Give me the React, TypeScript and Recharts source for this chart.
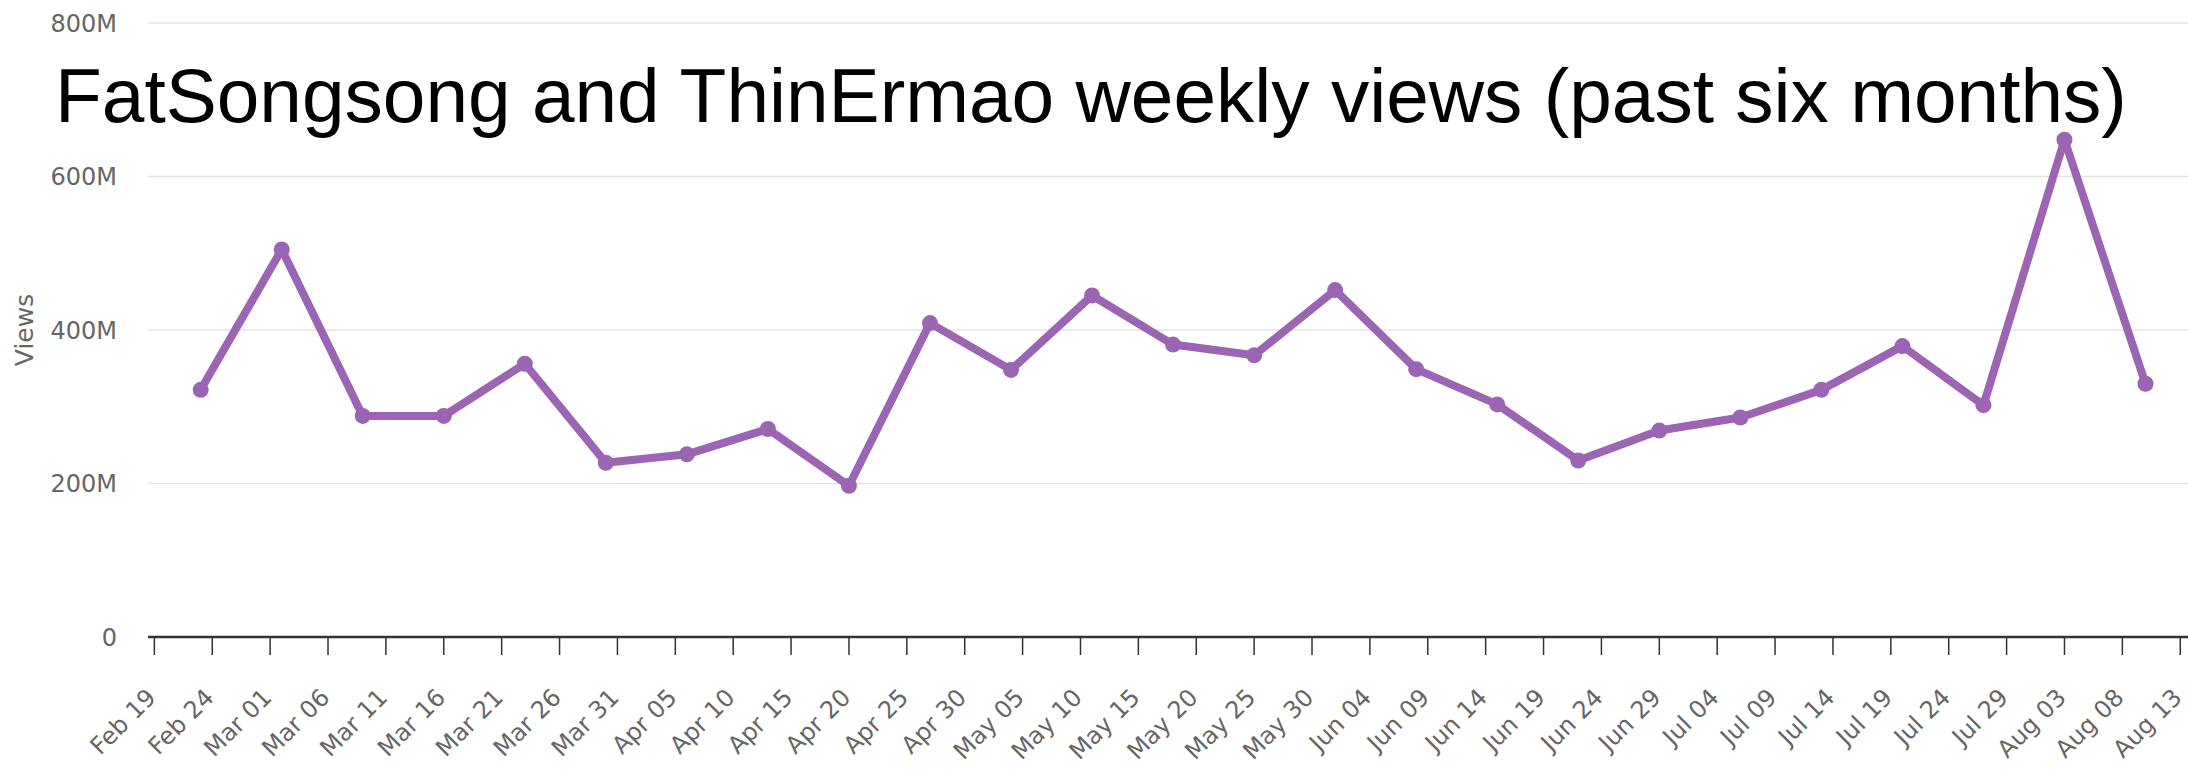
import React from 'react';
import { LineChart, Line, XAxis, YAxis, CartesianGrid } from 'recharts';

// ---- data ----
const weekDates = [
  '2023-02-23', '2023-03-02', '2023-03-09', '2023-03-16', '2023-03-23',
  '2023-03-30', '2023-04-06', '2023-04-13', '2023-04-20', '2023-04-27',
  '2023-05-04', '2023-05-11', '2023-05-18', '2023-05-25', '2023-06-01',
  '2023-06-08', '2023-06-15', '2023-06-22', '2023-06-29', '2023-07-06',
  '2023-07-13', '2023-07-20', '2023-07-27', '2023-08-03', '2023-08-10',
];
const weeklyViewsMillions = [
  322, 505, 288, 288, 356,
  227, 238, 271, 197, 409,
  348, 445, 381, 367, 452,
  349, 303, 230, 269, 286,
  322, 379, 302, 648, 330,
];
const xTickDates = [
  '2023-02-19', '2023-02-24', '2023-03-01', '2023-03-06', '2023-03-11', '2023-03-16',
  '2023-03-21', '2023-03-26', '2023-03-31', '2023-04-05', '2023-04-10', '2023-04-15',
  '2023-04-20', '2023-04-25', '2023-04-30', '2023-05-05', '2023-05-10', '2023-05-15',
  '2023-05-20', '2023-05-25', '2023-05-30', '2023-06-04', '2023-06-09', '2023-06-14',
  '2023-06-19', '2023-06-24', '2023-06-29', '2023-07-04', '2023-07-09', '2023-07-14',
  '2023-07-19', '2023-07-24', '2023-07-29', '2023-08-03', '2023-08-08', '2023-08-13',
];
const yTicks = [0, 200e6, 400e6, 600e6, 800e6];
const yTickLabels = ['0', '200M', '400M', '600M', '800M'];
const monthNames = ['Jan', 'Feb', 'Mar', 'Apr', 'May', 'Jun', 'Jul', 'Aug', 'Sep', 'Oct', 'Nov', 'Dec'];

const TITLE = 'FatSongsong and ThinErmao weekly views (past six months)';
const Y_LABEL = 'Views';

// ---- derived ----
const DAY = 24 * 3600 * 1000;
const data = weekDates.map((d, i) => ({ t: Date.parse(d), views: weeklyViewsMillions[i] * 1e6 }));
const xTicks = xTickDates.map((d) => Date.parse(d));
const t0 = xTicks[0];
const tEnd = xTicks[xTicks.length - 1];
const xDomain = [t0 - 0.55 * DAY, tEnd + 0.67 * DAY];

const fmtDate = (t: number) => {
  const d = new Date(t);
  const day = d.getUTCDate();
  return `${monthNames[d.getUTCMonth()]} ${day < 10 ? '0' + day : day}`;
};
const fmtY = (v: number) => {
  const i = yTicks.indexOf(v);
  return i >= 0 ? yTickLabels[i] : String(v);
};

const PURPLE = '#9b65b3';
const GRAY = '#666666';
const TICK_FONT = "'DejaVu Sans', sans-serif";

const XTick = (props: any) => {
  const { x, y, payload } = props;
  const px = x + 3;
  const py = y + 42;
  return (
    <text
      x={px}
      y={py}
      transform={`rotate(-45 ${px} ${py})`}
      textAnchor="end"
      fontFamily={TICK_FONT}
      fontSize={24}
      fill={GRAY}
    >
      {fmtDate(payload.value)}
    </text>
  );
};

const YLabel = (props: any) => {
  const vb = props.viewBox || {};
  const lx = vb.x + 33;
  const ly = vb.y + vb.height / 2;
  return (
    <text
      x={lx}
      y={ly}
      transform={`rotate(-90 ${lx} ${ly})`}
      textAnchor="middle"
      fontFamily={TICK_FONT}
      fontSize={25}
      fill={GRAY}
    >
      {Y_LABEL}
    </text>
  );
};

export default function App() {
  return (
    <div style={{ position: 'absolute', left: 0, top: 0, width: 2188, height: 776, background: '#fff' }}>
      <LineChart
        width={2188}
        height={776}
        data={data}
        margin={{ top: 23, right: 0, bottom: 0, left: 0 }}
      >
        <CartesianGrid vertical={false} stroke="#e3e3e3" strokeWidth={1.5} />
        <XAxis
          dataKey="t"
          type="number"
          scale="linear"
          domain={xDomain}
          ticks={xTicks}
          interval={0}
          height={139}
          tickSize={18}
          tickMargin={2}
          axisLine={{ stroke: '#333', strokeWidth: 2.5 }}
          tickLine={{ stroke: '#333', strokeWidth: 1.5 }}
          tick={<XTick />}
        />
        <YAxis
          type="number"
          domain={[0, 800e6]}
          ticks={yTicks}
          interval={0}
          width={148}
          tickSize={0}
          tickMargin={31}
          axisLine={false}
          tickLine={false}
          tickFormatter={fmtY}
          tick={{ fontFamily: TICK_FONT, fontSize: 24, fill: GRAY }}
          label={<YLabel />}
        />
        <Line
          type="linear"
          dataKey="views"
          stroke={PURPLE}
          strokeWidth={8}
          strokeLinejoin="round"
          dot={{ r: 8, fill: PURPLE, stroke: 'none', strokeWidth: 0 }}
          activeDot={false}
          isAnimationActive={false}
        />
      </LineChart>
      <svg
        width={2188}
        height={776}
        style={{ position: 'absolute', left: 0, top: 0, pointerEvents: 'none' }}
      >
        <text x={55} y={122} fontFamily="'Liberation Sans', Arial, sans-serif" fontSize={76.6} fill="#000">
          {TITLE}
        </text>
      </svg>
    </div>
  );
}
